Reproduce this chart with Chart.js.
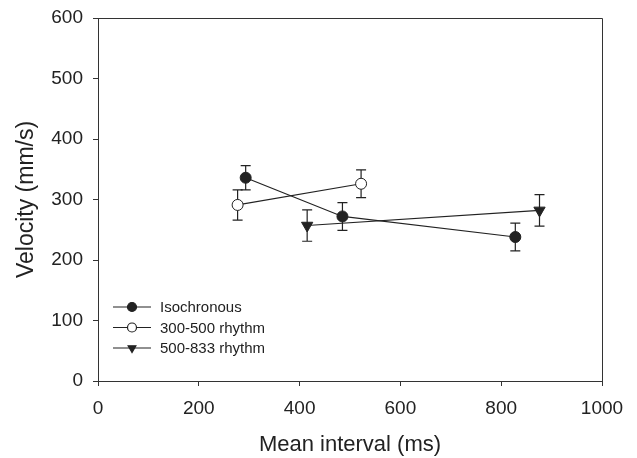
<!DOCTYPE html>
<html>
<head>
<meta charset="utf-8">
<script src="https://cdn.jsdelivr.net/npm/chart.js@4/dist/chart.umd.min.js"></script>
<style>
  html, body { margin: 0; padding: 0; background: #fff; }
  #wrap { width: 637px; height: 458px; }
</style>
</head>
<body>
<div id="wrap"><canvas id="chart"></canvas></div>
<script>
// Data (x = mean interval in ms, y = velocity in mm/s)
const isoX = [293, 485, 828];
const isoY = [336, 272, 238];
const isoErr = [20, 23, 23];

const r300X = [277, 522];
const r300Y = [291, 326];
const r300Err = [25, 23];

const r500X = [415, 876];
const r500Y = [257, 282];
const r500Err = [26, 26];

const seriesNames = ['Isochronous', '300-500 rhythm', '500-833 rhythm'];
const xTicks = [0, 200, 400, 600, 800, 1000];
const yTicks = [0, 100, 200, 300, 400, 500, 600];

const FONT = '"Liberation Sans", Arial, sans-serif';
const INK = '#222';

function toPoints(xs, ys, errs) {
    return xs.map((x, i) => ({ x: x, y: ys[i], err: errs[i] }));
}

// Error bars, drawn through the scales before the markers
const errorBars = {
    id: 'errorBars',
    beforeDatasetsDraw(chart) {
        const ctx = chart.ctx;
        const xs = chart.scales.x, ys = chart.scales.y;
        ctx.save();
        ctx.strokeStyle = INK;
        ctx.lineWidth = 1.2;
        chart.data.datasets.forEach(ds => {
            ds.data.forEach(p => {
                const px = xs.getPixelForValue(p.x);
                const top = ys.getPixelForValue(p.y + p.err);
                const bot = ys.getPixelForValue(p.y - p.err);
                ctx.beginPath();
                ctx.moveTo(px, top); ctx.lineTo(px, bot);
                ctx.moveTo(px - 5, top); ctx.lineTo(px + 5, top);
                ctx.moveTo(px - 5, bot); ctx.lineTo(px + 5, bot);
                ctx.stroke();
            });
        });
        ctx.restore();
    }
};

// Top and right edges of the frame + legend inside the plot
const frameAndLegend = {
    id: 'frameAndLegend',
    afterDraw(chart) {
        const ctx = chart.ctx;
        const a = chart.chartArea;
        ctx.save();
        ctx.strokeStyle = '#333';
        ctx.lineWidth = 1;
        ctx.beginPath();
        ctx.moveTo(a.left, a.top + 0.5);
        ctx.lineTo(a.right + 0.5, a.top + 0.5);
        ctx.lineTo(a.right + 0.5, a.bottom);
        ctx.stroke();

        // legend
        const x0 = a.left + 15;
        const y0 = a.bottom - 74;
        chart.data.datasets.forEach((ds, i) => {
            const y = y0 + i * 20.5;
            ctx.strokeStyle = INK;
            ctx.lineWidth = 1.2;
            ctx.beginPath();
            ctx.moveTo(x0, y); ctx.lineTo(x0 + 38, y);
            ctx.stroke();
            ctx.fillStyle = ds.pointBackgroundColor;
            ctx.strokeStyle = INK;
            Chart.helpers.drawPoint(ctx, {
                pointStyle: ds.pointStyle,
                rotation: ds.pointRotation || 0,
                radius: 4.5,
                borderWidth: 1
            }, x0 + 19, y);
            ctx.fillStyle = INK;
            ctx.font = '15px ' + FONT;
            ctx.textBaseline = 'middle';
            ctx.textAlign = 'left';
            ctx.fillText(seriesNames[i], x0 + 47, y + 1);
        });
        ctx.restore();
    }
};

const common = {
    showLine: true,
    borderColor: INK,
    borderWidth: 1.2,
    pointBorderColor: INK,
    pointBorderWidth: 1,
    pointRadius: 5.5,
    pointHoverRadius: 5.5
};

new Chart(document.getElementById('chart'), {
    type: 'scatter',
    data: {
        datasets: [
            Object.assign({}, common, {
                label: seriesNames[0],
                data: toPoints(isoX, isoY, isoErr),
                pointStyle: 'circle',
                pointBackgroundColor: INK
            }),
            Object.assign({}, common, {
                label: seriesNames[1],
                data: toPoints(r300X, r300Y, r300Err),
                pointStyle: 'circle',
                pointBackgroundColor: '#fff'
            }),
            Object.assign({}, common, {
                label: seriesNames[2],
                data: toPoints(r500X, r500Y, r500Err),
                pointStyle: 'triangle',
                pointRotation: 180,
                pointRadius: 6.5,
                pointHoverRadius: 6.5,
                pointBackgroundColor: INK
            })
        ]
    },
    options: {
        responsive: true,
        maintainAspectRatio: false,
        animation: false,
        layout: {
            padding: { left: 0, right: 35, top: 18, bottom: 0 }
        },
        plugins: {
            legend: { display: false },
            tooltip: { enabled: false }
        },
        scales: {
            x: {
                type: 'linear',
                min: 0,
                max: 1000,
                afterBuildTicks(scale) {
                    scale.ticks = xTicks.map(v => ({ value: v }));
                },
                afterFit(scale) {
                    scale.height = 77;
                    scale.paddingLeft = 0;
                    scale.paddingRight = 0;
                },
                grid: { drawOnChartArea: false, drawTicks: true, tickLength: 5, color: '#333' },
                border: { color: '#333', width: 1 },
                ticks: {
                    color: INK,
                    padding: 11,
                    font: { family: FONT, size: 19 },
                    callback: v => String(v)
                },
                title: {
                    display: true,
                    text: 'Mean interval (ms)',
                    color: INK,
                    padding: { top: 1, bottom: 0 },
                    font: { family: FONT, size: 22 }
                }
            },
            y: {
                type: 'linear',
                min: 0,
                max: 600,
                afterBuildTicks(scale) {
                    scale.ticks = yTicks.map(v => ({ value: v }));
                },
                afterFit(scale) {
                    scale.width = 98;
                    scale.paddingTop = 0;
                    scale.paddingBottom = 0;
                },
                grid: { drawOnChartArea: false, drawTicks: true, tickLength: 5, color: '#333' },
                border: { color: '#333', width: 1 },
                ticks: {
                    color: INK,
                    padding: 10,
                    font: { family: FONT, size: 19 },
                    callback: v => String(v)
                },
                title: {
                    display: true,
                    text: 'Velocity (mm/s)',
                    color: INK,
                    padding: { top: 13, bottom: 0 },
                    font: { family: FONT, size: 23 }
                }
            }
        }
    },
    plugins: [errorBars, frameAndLegend]
});
</script>
</body>
</html>
